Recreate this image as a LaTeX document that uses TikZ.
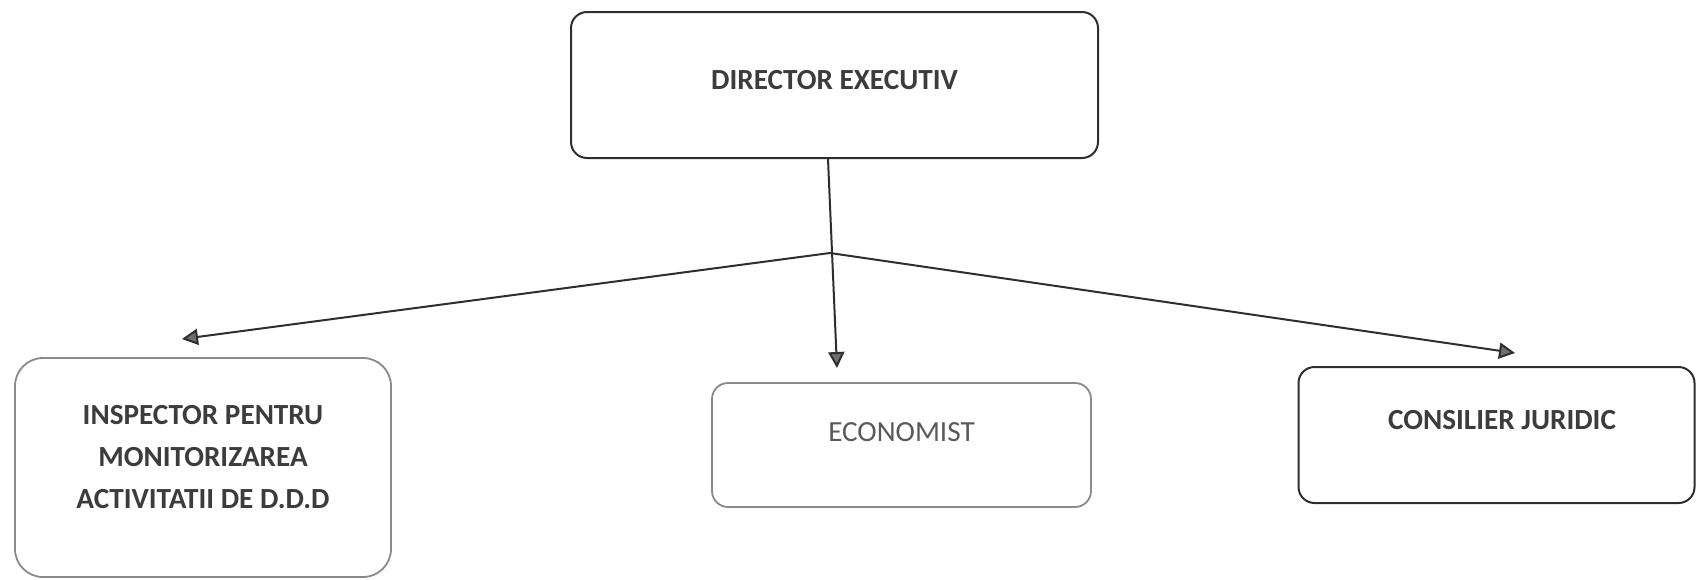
\documentclass[tikz,border=0pt]{standalone}
\usepackage{fontspec}
\setmainfont{Carlito}
\usetikzlibrary{arrows.meta,calc}
\definecolor{linec}{HTML}{2E2E2E}
\definecolor{lightline}{HTML}{8A8A8A}
\definecolor{txtc}{HTML}{3C3C3C}
\definecolor{tipc}{HTML}{6E6E6E}
\tikzset{
  darkbox/.style={draw=linec, line width=1pt, rounded corners=8pt, inner sep=0pt},
  lightbox/.style={draw=lightline, line width=0.9pt, rounded corners=8pt, inner sep=0pt},
  lbl/.style={font=\fontsize{14.6}{21}\selectfont\bfseries, text=txtc, align=center, inner sep=0pt},
  lblreg/.style={font=\fontsize{14.6}{21}\selectfont, text=txtc!85, align=center, inner sep=0pt},
  conn/.style={draw=linec, line width=1pt, -{Triangle[length=8pt,width=8pt,fill=tipc]}},
  plain/.style={draw=linec, line width=1pt}
}
\begin{document}
\begin{tikzpicture}[x=0.5pt,y=-0.5pt]
\useasboundingbox (0,0) rectangle (1696,579);
% boxes
\node[darkbox, minimum width=263.5pt, minimum height=73pt] (dir) at (834.5,85) {};
\node[lbl] (dirt) at (834.5,80) {DIRECTOR EXECUTIV};
\node[lightbox, rounded corners=14pt, minimum width=188pt, minimum height=109.5pt] (insp) at (203,467.5) {};
\node[lbl] (inspt) at (203,457) {INSPECTOR PENTRU\\MONITORIZAREA\\ACTIVITATII DE D.D.D};
\node[lightbox, minimum width=189.5pt, minimum height=62pt] (eco) at (901.5,445) {};
\node[lblreg] (ecot) at (901.5,432) {ECONOMIST};
\node[darkbox, minimum width=198pt, minimum height=68pt] (cons) at (1496.5,435) {};
\node[lbl] (const) at (1502,420) {CONSILIER JURIDIC};
% connector points
\coordinate (j) at (830,253);
\coordinate (tE) at (837,368);
\coordinate (tI) at (182,339);
\coordinate (tC) at (1515,353);
% connectors
\draw[conn] ($(dir.south)+(-6.5,0)$) -- (tE);
\draw[conn] (j) -- (tI);
\draw[conn] (j) -- (tC);
\end{tikzpicture}
\end{document}
